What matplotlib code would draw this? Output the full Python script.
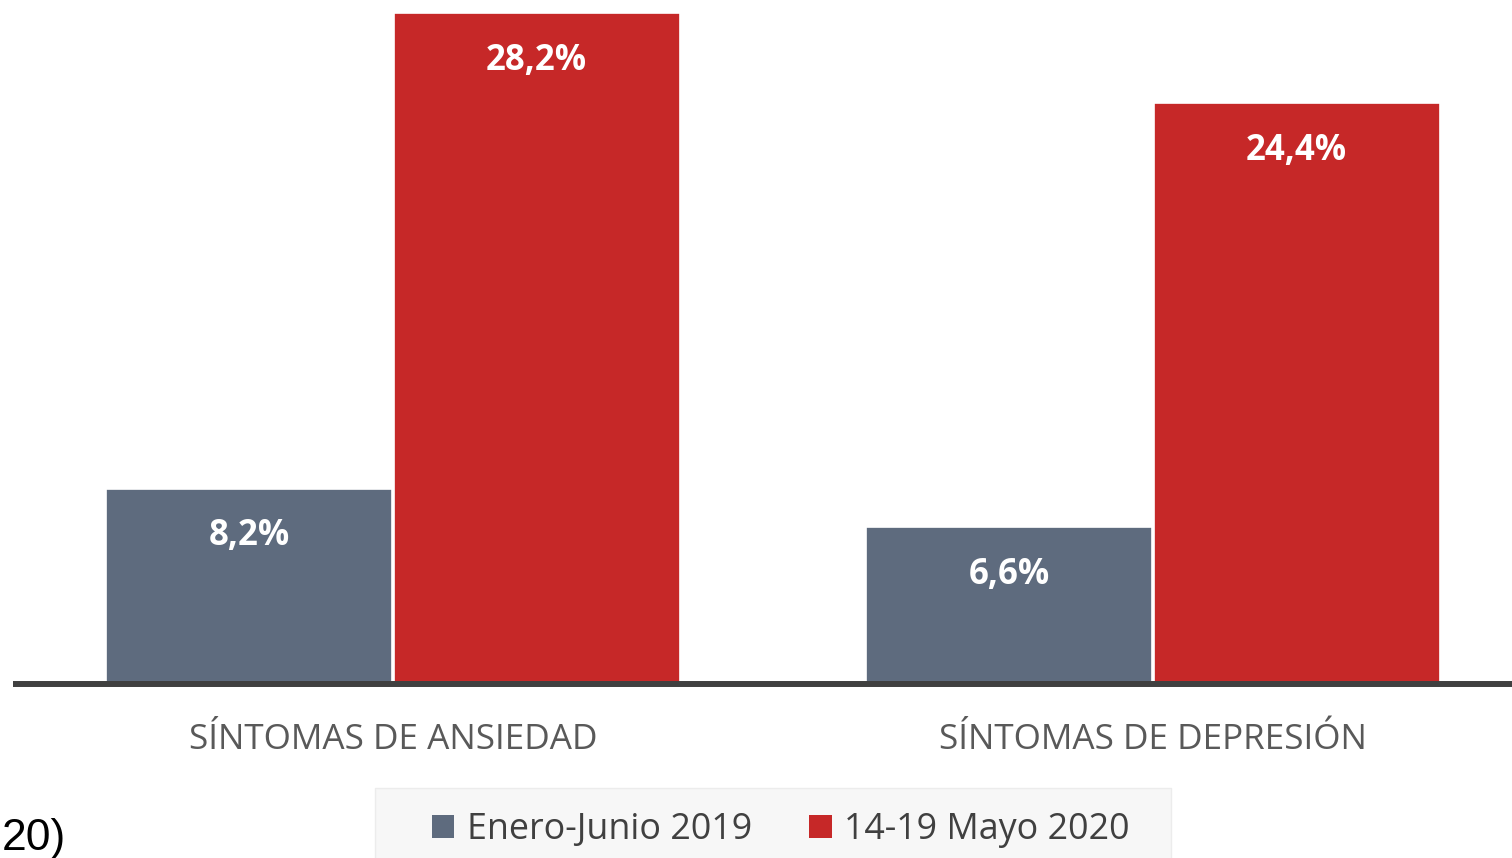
import matplotlib
matplotlib.use("Agg")
import matplotlib.pyplot as plt
from matplotlib.patches import Patch, Rectangle
from matplotlib.transforms import blended_transform_factory
import numpy as np

categories = ["SÍNTOMAS DE ANSIEDAD", "SÍNTOMAS DE DEPRESIÓN"]
series_names = ["Enero-Junio 2019", "14-19 Mayo 2020"]
values_2019 = [8.2, 6.6]
values_2020 = [28.2, 24.4]
value_labels_2019 = ["8,2%", "6,6%"]
value_labels_2020 = ["28,2%", "24,4%"]

GRAY = "#5e6b7e"
RED = "#c62828"
FONT = "Open Sans"

W, H = 1512, 858
fig = plt.figure(figsize=(W / 100, H / 100), dpi=100)

# axes: left edge at px 13, baseline at px 684, top at px 0
ax_left = 13 / W
ax_right = 1533 / W
ax_bottom = (H - 684) / H
ax = fig.add_axes([ax_left, ax_bottom, ax_right - ax_left, 1 - ax_bottom])
ax.set_xlim(-0.5, 1.5)
ax.set_ylim(0, 28.75)

x = np.arange(len(categories))
bw = 0.376
off = 0.189
ax.bar(x - off, values_2019, bw, color=GRAY, edgecolor="white", linewidth=1.2, zorder=2)
ax.bar(x + off, values_2020, bw, color=RED, edgecolor="white", linewidth=1.2, zorder=2)

lbl_off = 2.0
for xi, v, t in zip(x - off, values_2019, value_labels_2019):
    ax.text(xi, v - lbl_off, t, ha="center", va="center", color="white",
            fontsize=25, fontweight="bold", family=FONT, zorder=3)
for xi, v, t in zip(x + off, values_2020, value_labels_2020):
    ax.text(xi, v - lbl_off, t, ha="center", va="center", color="white",
            fontsize=25, fontweight="bold", family=FONT, zorder=3)

for s in ["top", "right", "left"]:
    ax.spines[s].set_visible(False)
ax.spines["bottom"].set_color("#404040")
ax.spines["bottom"].set_linewidth(4.3)
ax.spines["bottom"].set_capstyle("butt")
ax.spines["bottom"].set_zorder(4)
ax.set_yticks([])
ax.set_xticks([])

tr = blended_transform_factory(ax.transData, ax.transAxes)
for xi, c in zip(x, categories):
    ax.text(xi, -56 / 684, c, transform=tr, ha="center", va="center",
            color="#595959", fontsize=25.3, family=FONT)

# legend background
fig.patches.append(Rectangle((375 / W, -0.02), 796 / W, (H - 788) / H + 0.02,
                             transform=fig.transFigure, facecolor="#f7f7f7",
                             edgecolor="#ececec", linewidth=1, zorder=0))
handles = [Patch(facecolor=GRAY, edgecolor="none"), Patch(facecolor=RED, edgecolor="none")]
fig.legend(handles, series_names, loc="center", bbox_to_anchor=(781 / W, (H - 830) / H),
           ncol=2, frameon=False, prop={"family": FONT, "size": 25.8},
           labelcolor="#404040", handlelength=0.62, handleheight=0.62,
           handletextpad=0.35, columnspacing=1.6)

fig.text(0.001, (H - 850) / H, "20)", ha="left", va="baseline", fontsize=32,
         family="Liberation Sans", color="black")

fig.savefig("out.png", dpi=100)
